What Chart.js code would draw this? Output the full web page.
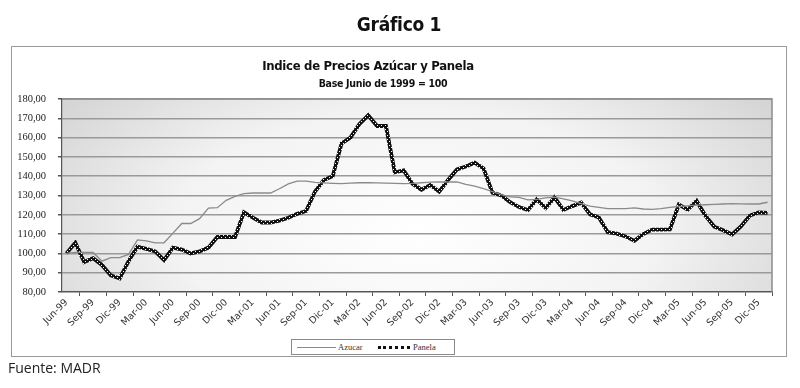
<!DOCTYPE html>
<html lang="es">
<head>
  <meta charset="UTF-8" />
  <title>Gráfico 1 – Indice de Precios Azúcar y Panela</title>
  <script src="https://cdn.jsdelivr.net/npm/chart.js"></script>
  <style>
    * { box-sizing: border-box; margin: 0; padding: 0; }

    body {
      width: 800px;
      height: 388px;
      background: #fff;
      position: relative;
      overflow: hidden;
      font-family: 'Liberation Sans Narrow', 'DejaVu Sans Condensed', sans-serif;
      color: #111;
    }

    #frame {
      position: absolute;
      left: 11px; top: 46px;
      width: 776px; height: 311px;
      border: 1.5px solid #9a9a9a;
    }

    #chart {
      position: absolute;
      left: 0; top: 0;
    }

    .txt {
      position: absolute;
      white-space: nowrap;
      font-weight: bold;
      transform: translateX(-50%);
      letter-spacing: -0.3px;
    }

    #fig-title { left: 399px; top: 13px; font-size: 19px; }
    #title { left: 368px; top: 58px; font-size: 13px; }
    #subtitle { left: 383px; top: 77px; font-size: 10.5px; }

    #source {
      position: absolute;
      left: 8px; top: 358px;
      font-family: 'Open Sans', sans-serif;
      font-size: 14px;
      color: #222;
    }

    #legend {
      position: absolute;
      left: 291px; top: 339px;
      width: 164px; height: 16px;
      border: 1px solid #8a8a8a;
      background: #fff;
      font-family: 'Liberation Serif', serif;
      font-size: 8.5px;
      color: #333;
    }
    #legend span { position: absolute; top: 2px; }
    #legend .line { height: 0; top: 7px; }
  </style>
</head>
<body>

  <div id="frame"></div>
  <canvas id="chart" width="800" height="388"></canvas>

  <div class="txt" id="fig-title">Gráfico 1</div>
  <div class="txt" id="title">Indice de Precios Azúcar y Panela</div>
  <div class="txt" id="subtitle">Base Junio de 1999 = 100</div>

  <div id="legend">
    <span class="line" style="left:5px; width:39px; border-top:1.2px solid #8a8a8a;"></span>
    <span style="left:46px;">Azucar</span>
    <span class="line" style="left:86px; width:32px; border-top:3px dotted #111; top:6px;"></span>
    <span style="left:121px;">Panela</span>
  </div>

  <div id="source">Fuente: MADR</div>

  <script>
    // meses Jun-99 .. Ene-06
    const months = [
      'Jun-99', 'Jul-99', 'Ago-99', 'Sep-99', 'Oct-99', 'Nov-99', 'Dic-99',
      'Ene-00', 'Feb-00', 'Mar-00', 'Abr-00', 'May-00', 'Jun-00', 'Jul-00', 'Ago-00', 'Sep-00', 'Oct-00', 'Nov-00', 'Dic-00',
      'Ene-01', 'Feb-01', 'Mar-01', 'Abr-01', 'May-01', 'Jun-01', 'Jul-01', 'Ago-01', 'Sep-01', 'Oct-01', 'Nov-01', 'Dic-01',
      'Ene-02', 'Feb-02', 'Mar-02', 'Abr-02', 'May-02', 'Jun-02', 'Jul-02', 'Ago-02', 'Sep-02', 'Oct-02', 'Nov-02', 'Dic-02',
      'Ene-03', 'Feb-03', 'Mar-03', 'Abr-03', 'May-03', 'Jun-03', 'Jul-03', 'Ago-03', 'Sep-03', 'Oct-03', 'Nov-03', 'Dic-03',
      'Ene-04', 'Feb-04', 'Mar-04', 'Abr-04', 'May-04', 'Jun-04', 'Jul-04', 'Ago-04', 'Sep-04', 'Oct-04', 'Nov-04', 'Dic-04',
      'Ene-05', 'Feb-05', 'Mar-05', 'Abr-05', 'May-05', 'Jun-05', 'Jul-05', 'Ago-05', 'Sep-05', 'Oct-05', 'Nov-05', 'Dic-05',
      'Ene-06'
    ];

    const azucar = [
      100, 100.5, 100.5, 100.5, 96, 97.8, 97.8,
      99.5, 107, 106.5, 105.5, 105.5, 110.5, 115.5, 115.5, 118, 123.5, 123.7, 127.5,
      129.5, 131, 131.3, 131.3, 131.3, 133.5, 136, 137.5, 137.5, 136.8, 136.5, 136.3,
      136.2, 136.4, 136.6, 136.7, 136.5, 136.4, 136.3, 136.2, 136.3, 136.6, 136.9, 137,
      137, 137, 135.8, 134.8, 133.5, 132, 130.5, 129.3, 129, 127.7, 128, 128.8,
      129.2, 128.3, 127.2, 125.8, 124.5, 123.8, 123.2, 123.2, 123.2, 123.6, 123, 122.8,
      123.2, 123.8, 124.3, 124.6, 125, 125.2, 125.4, 125.6, 125.8, 125.7, 125.6, 125.6,
      126.5
    ];

    const panela = [
      100, 105.5, 95.5, 97.5, 94, 88.6, 87,
      96, 103.5, 102.3, 101, 96.5, 103, 102, 100, 101, 103, 108.5, 108.5,
      108.5, 121.3, 118.5, 116, 116, 117, 118.5, 120.5, 122, 132, 138, 140,
      157, 160, 167, 171.5, 166, 166, 142, 143, 136, 133, 135.5, 132,
      138, 143.5, 145, 147, 144, 131.5, 130, 126.5, 124, 122.5, 128, 123.5,
      129, 122.5, 124.5, 126.3, 120.2, 118.6, 111, 110.2, 108.8, 106.5, 110, 112.3,
      112.3, 112.4, 125.3, 122.7, 127.2, 119.5, 113.8, 112, 109.8, 114, 119.6, 121.2,
      121
    ];

    const yMin = 80, yMax = 180, yStep = 10;

    // trazo punteado de la panela: negro con puntos blancos
    const patCanvas = document.createElement('canvas');
    patCanvas.width = 4; patCanvas.height = 4;
    const pctx = patCanvas.getContext('2d');
    pctx.fillStyle = '#111';
    pctx.fillRect(0, 0, 4, 4);
    pctx.fillStyle = '#fff';
    pctx.fillRect(1, 1, 1, 1);
    pctx.fillRect(3, 3, 1, 1);

    const ctx = document.getElementById('chart').getContext('2d');
    const panelaStroke = ctx.createPattern(patCanvas, 'repeat');

    const plotBackground = {
      id: 'plotBackground',
      beforeDraw: chart => {
        const { ctx, chartArea: a } = chart;
        const w = a.right - a.left, h = a.bottom - a.top;
        ctx.save();
        ctx.beginPath();
        ctx.rect(a.left, a.top, w, h);
        ctx.clip();
        ctx.translate(a.left + w * 0.5, a.top + h * 0.68);
        ctx.scale(1, 0.5);
        const g = ctx.createRadialGradient(0, 0, 0, 0, 0, w * 0.68);
        g.addColorStop(0, '#ffffff');
        g.addColorStop(0.5, '#f3f3f3');
        g.addColorStop(1, '#cdcdcd');
        ctx.fillStyle = g;
        ctx.fillRect(-w, -h * 4, w * 2, h * 8);
        ctx.restore();
      },
      afterDatasetsDraw: chart => {
        const { ctx, chartArea: a } = chart;
        ctx.save();
        ctx.strokeStyle = '#8c8c8c';
        ctx.lineWidth = 1.5;
        ctx.beginPath();
        ctx.moveTo(a.left, a.top);
        ctx.lineTo(a.right, a.top);
        ctx.lineTo(a.right, a.bottom);
        ctx.stroke();
        ctx.restore();
      }
    };

    new Chart(ctx, {
      type: 'line',
      data: {
        labels: months,
        datasets: [
          {
            label: 'Azucar',
            data: azucar,
            borderColor: '#8a8a8a',
            borderWidth: 1.3,
            pointRadius: 0,
            tension: 0
          },
          {
            label: 'Panela',
            data: panela,
            borderColor: panelaStroke,
            borderWidth: 3.8,
            pointRadius: 0,
            tension: 0
          }
        ]
      },
      options: {
        responsive: false,
        animation: false,
        layout: {
          padding: { top: 99, right: 28, bottom: 46, left: 0 }
        },
        plugins: {
          legend: { display: false },
          tooltip: { enabled: false }
        },
        scales: {
          x: {
            offset: true,
            afterFit: scale => { scale.height = 50; },
            grid: {
              offset: true,
              drawOnChartArea: false,
              tickLength: 4,
              color: '#555'
            },
            border: { color: '#555', width: 1.2 },
            ticks: {
              autoSkip: false,
              maxRotation: 45,
              minRotation: 45,
              padding: 1,
              color: '#333',
              font: { family: 'DejaVu Sans', size: 9.5 },
              callback: function (value, index) {
                return index % 3 === 0 ? this.getLabelForValue(value) : null;
              }
            }
          },
          y: {
            min: yMin,
            max: yMax,
            afterFit: scale => { scale.width = 62; },
            grid: {
              color: '#9a9a9a',
              lineWidth: 1.5,
              tickLength: 4,
              tickColor: '#555'
            },
            border: { color: '#555', width: 1.2 },
            ticks: {
              stepSize: yStep,
              padding: 12,
              color: '#222',
              font: { family: 'Liberation Serif', size: 10.5 },
              callback: v => v.toFixed(2).replace('.', ',')
            }
          }
        }
      },
      plugins: [plotBackground]
    });
  </script>

</body>
</html>
